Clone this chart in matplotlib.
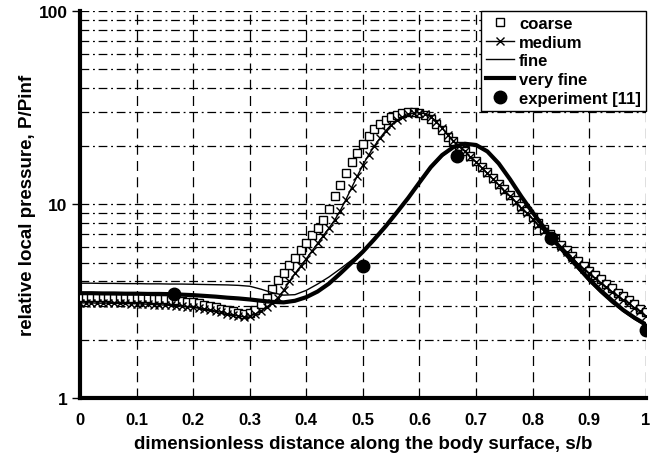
import numpy as np
import matplotlib
matplotlib.use("Agg")
import matplotlib.pyplot as plt
from matplotlib.ticker import FixedLocator, NullFormatter

plt.rcParams['font.family'] = ['Liberation Sans', 'DejaVu Sans']
plt.rcParams['font.weight'] = 'bold'

# grid step 0.01 for the marker series
s_fine_grid = np.round(np.arange(0, 1.0001, 0.01), 2)
coarse = [3.32, 3.32, 3.32, 3.31, 3.31, 3.31, 3.30, 3.30, 3.30, 3.29, 3.29,
          3.28, 3.27, 3.26, 3.25, 3.24, 3.22, 3.20, 3.18, 3.15, 3.12,
          3.08, 3.04, 3.00, 2.95, 2.90, 2.85, 2.80, 2.75, 2.72, 2.76,
          2.85, 3.05, 3.30, 3.65, 4.05, 4.45, 4.85, 5.30, 5.80, 6.35,
          6.95, 7.6, 8.3, 9.5, 11.0, 12.6, 14.5, 16.5, 18.5, 20.5,
          22.5, 24.6, 26.0, 27.3, 28.3, 29.1, 29.6, 29.9, 30.0, 29.7,
          29.0, 27.8, 26.2, 24.3, 22.4, 21.2, 20.0, 18.9, 17.8, 16.8,
          15.7, 14.7, 13.7, 12.8, 12.0, 11.2, 10.5, 9.8, 9.2, 8.6,
          8.0, 7.5, 7.0, 6.6, 6.2, 5.8, 5.4, 5.1, 4.8, 4.55,
          4.3, 4.1, 3.9, 3.7, 3.5, 3.35, 3.2, 3.05, 2.9, 2.78]
medium = [3.10, 3.10, 3.10, 3.09, 3.09, 3.09, 3.08, 3.08, 3.08, 3.07, 3.07,
          3.06, 3.05, 3.04, 3.03, 3.02, 3.01, 3.00, 2.98, 2.96, 2.94,
          2.91, 2.88, 2.85, 2.81, 2.77, 2.73, 2.69, 2.65, 2.63, 2.66,
          2.72, 2.82, 2.95, 3.10, 3.3, 3.6, 4.0, 4.4, 4.8, 5.25,
          5.75, 6.3, 6.9, 7.55, 8.3, 9.3, 10.6, 12.2, 14.0, 16.0,
          18.0, 20.0, 22.0, 24.0, 25.8, 27.2, 28.3, 29.2, 29.7, 29.8,
          29.4, 28.4, 26.8, 24.8, 22.8, 21.3, 20.0, 18.8, 17.6, 16.6,
          15.5, 14.5, 13.5, 12.6, 11.8, 11.0, 10.3, 9.6, 9.0, 8.4,
          7.8, 7.3, 6.85, 6.45, 6.05, 5.65, 5.3, 4.95, 4.65, 4.4,
          4.15, 3.95, 3.75, 3.55, 3.38, 3.22, 3.08, 2.93, 2.8, 2.65]

# grid step 0.02 for the lines
s_line = np.round(np.arange(0, 1.0001, 0.02), 2)
fine = [3.92, 3.92, 3.91, 3.91, 3.90, 3.90, 3.89, 3.89, 3.88, 3.88,
        3.87, 3.86, 3.85, 3.84, 3.82, 3.78, 3.65, 3.50, 3.40, 3.42,
        3.60, 3.88, 4.22, 4.65, 5.15, 5.75, 6.6, 7.6, 9.0, 10.7,
        12.8, 15.3, 17.7, 19.6, 20.4, 20.1, 18.6, 16.1, 13.4, 10.9,
        9.0, 7.5, 6.3, 5.4, 4.65, 4.0, 3.5, 3.1, 2.8, 2.55, 2.35]
very_fine = [3.48, 3.48, 3.47, 3.47, 3.46, 3.46, 3.45, 3.45, 3.44, 3.42,
             3.40, 3.37, 3.34, 3.30, 3.27, 3.23, 3.18, 3.14, 3.12, 3.18,
             3.32, 3.55, 3.90, 4.40, 5.00, 5.70, 6.6, 7.7, 9.1, 10.8,
             13.0, 15.6, 18.0, 19.8, 20.6, 20.3, 18.8, 16.3, 13.5, 11.0,
             9.1, 7.6, 6.4, 5.5, 4.75, 4.1, 3.6, 3.2, 2.85, 2.6, 2.4]

s_exp = [0.167, 0.5, 0.667, 0.833, 1.0]
p_exp = [3.45, 4.8, 17.8, 6.7, 2.25]

fig = plt.figure(figsize=(6.61, 4.60), dpi=100)
ax = fig.add_axes([0.121, 0.1326, 0.856, 0.8414])

ax.plot(s_fine_grid, coarse, 's', ms=5.5, mfc='white', mec='black', mew=1, label='coarse', zorder=3)
ax.plot(s_fine_grid, medium, '-x', color='black', ms=6, mew=1, lw=1, label='medium', zorder=3)
ax.plot(s_line, fine, '-', color='black', lw=1, label='fine', zorder=4)
ax.plot(s_line, very_fine, '-', color='black', lw=3, label='very fine', zorder=4)
ax.plot(s_exp, p_exp, 'o', color='black', ms=9, label='experiment [11]', zorder=5)

ax.set_yscale('log')
ax.set_xlim(0, 1)
ax.set_ylim(1, 100)
ax.set_xticks(np.round(np.arange(0, 1.01, 0.1), 1))
ax.set_xticklabels(['0', '0.1', '0.2', '0.3', '0.4', '0.5', '0.6', '0.7', '0.8', '0.9', '1'])
ax.yaxis.set_major_locator(FixedLocator([1, 10, 100]))
ax.set_yticklabels(['1', '10', '100'])
ax.yaxis.set_minor_locator(FixedLocator([2, 3, 4, 5, 6, 7, 8, 9, 20, 30, 40, 50, 60, 70, 80, 90]))
ax.yaxis.set_minor_formatter(NullFormatter())
ax.tick_params(axis='x', length=0, labelsize=12, pad=10)
ax.tick_params(axis='y', which='major', length=6, width=1, labelsize=12.5, pad=3)
ax.tick_params(axis='y', which='minor', length=0)

ax.grid(True, axis='x', which='major', color='black', lw=0.9, linestyle=(0, (8, 5)))
ax.grid(True, axis='y', which='both', color='black', lw=0.9, linestyle=(0, (7, 3, 1.5, 3)))
ax.set_axisbelow(True)

for side in ['top', 'right']:
    ax.spines[side].set_visible(False)
ax.spines['left'].set_linewidth(3)
ax.spines['bottom'].set_linewidth(3)

ax.set_xlabel('dimensionless distance along the body surface, s/b', fontsize=13.5, fontweight='bold', labelpad=6)
ax.set_ylabel('relative local pressure, P/Pinf', fontsize=13.5, fontweight='bold', labelpad=2)

leg = ax.legend(loc='upper right', fontsize=12, frameon=True, fancybox=False,
                edgecolor='black', framealpha=1, handlelength=1.7, handletextpad=0.3,
                borderpad=0.3, labelspacing=0.22, borderaxespad=0)
leg.get_frame().set_linewidth(1)
leg.set_zorder(10)

fig.savefig('out.png', dpi=100)
